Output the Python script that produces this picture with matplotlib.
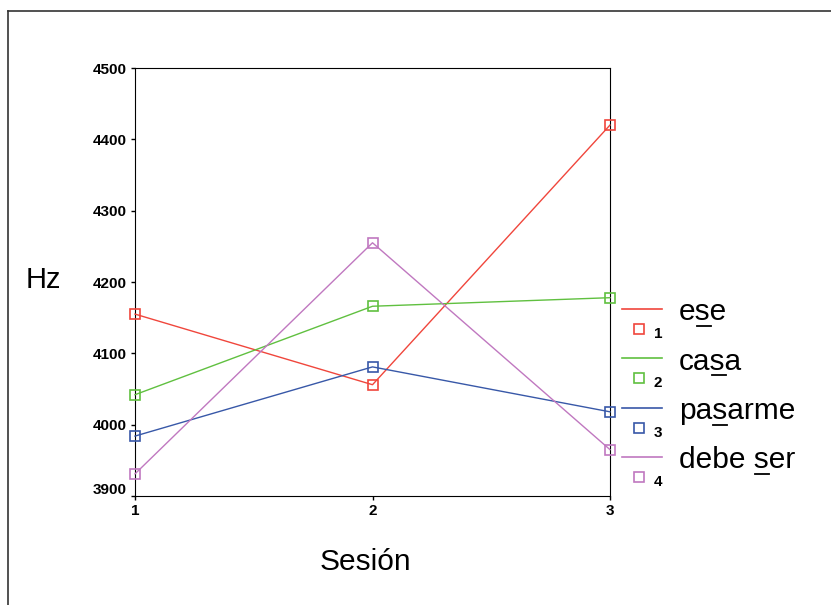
import matplotlib.pyplot as plt
import matplotlib.transforms as mtransforms
from matplotlib.lines import Line2D
import numpy as np

# data
sessions = [1, 2, 3]
ese = [4155, 4056, 4420]
casa = [4042, 4166, 4178]
pasarme = [3984, 4081, 4018]
debe_ser = [3931, 4255, 3965]

series_names = ["ese", "casa", "pasarme", "debe ser"]
underline_pos = [1, 2, 2, 5]   # index of the underlined "s"
series_ids = ["1", "2", "3", "4"]
series_values = [ese, casa, pasarme, debe_ser]
colors = ["#f0463c", "#60c040", "#3858a8", "#c078c0"]

y_ticks = [3900, 4000, 4100, 4200, 4300, 4400, 4500]

W, H = 831, 605
fig = plt.figure(figsize=(W / 100, H / 100), dpi=100)
fig.patch.set_facecolor("white")

narrow = ["Liberation Sans Narrow", "Liberation Sans", "DejaVu Sans"]
sans = ["Liberation Sans", "DejaVu Sans"]

# frame around the figure (only top and left visible)
fig.add_artist(Line2D([8 / W, 8 / W], [0, 1 - 11 / H], transform=fig.transFigure,
                      color="#333333", lw=1.2))
fig.add_artist(Line2D([8 / W, 1], [1 - 11 / H, 1 - 11 / H], transform=fig.transFigure,
                      color="#333333", lw=1.2))

ax = fig.add_axes([135 / W, (H - 496) / H, 475 / W, 428 / H])

for vals, c in zip(series_values, colors):
    ax.plot(sessions, vals, color=c, lw=1.0, marker="s", markersize=7,
            markerfacecolor="none", markeredgecolor=c, markeredgewidth=1.2,
            clip_on=False, zorder=3)

ax.set_xlim(1, 3)
ax.set_ylim(3900, 4500)
ax.set_xticks(sessions)
ax.set_yticks(y_ticks)
ax.tick_params(direction="out", length=3, width=1, pad=3)
for lab in ax.get_xticklabels() + ax.get_yticklabels():
    lab.set_family(narrow)
    lab.set_fontsize(11)
    lab.set_fontweight("bold")
# the lowest y label sits a little above its tick, as in the reference
low = ax.get_yticklabels()[0]
low.set_transform(low.get_transform()
                  + mtransforms.ScaledTranslation(0, 8 / 100, fig.dpi_scale_trans))

fig.text(43 / W, 1 - 280 / H, "Hz", family=sans, fontsize=21,
         ha="center", va="center")
fig.text(365 / W, 1 - 562 / H, "Sesión", family=sans, fontsize=21.5,
         ha="center", va="center")

renderer = fig.canvas.get_renderer()


def text_width(s):
    t = fig.text(0, 0, s, family=sans, fontsize=21.5)
    w = t.get_window_extent(renderer).width
    t.remove()
    return w


# legend: line + name, then square marker + index
for i, (name, ui, sid, c) in enumerate(zip(series_names, underline_pos,
                                           series_ids, colors)):
    yl = 309 + i * 49.3
    fig.add_artist(Line2D([622 / W, 662 / W], [1 - yl / H, 1 - yl / H],
                          transform=fig.transFigure, color=c, lw=1.2))
    fig.add_artist(Line2D([639 / W], [1 - (yl + 20) / H], transform=fig.transFigure,
                          marker="s", markersize=7, markerfacecolor="none",
                          markeredgecolor=c, markeredgewidth=1.2, lw=0))
    x0 = 679
    fig.text(x0 / W, 1 - (yl + 11.5) / H, name, family=sans, fontsize=21.5,
             ha="left", va="baseline")
    end = text_width(name[:ui + 1])
    start = end - text_width(name[ui])
    fig.add_artist(Line2D([(x0 + start + 1) / W, (x0 + end) / W],
                          [1 - (yl + 17) / H, 1 - (yl + 17) / H],
                          transform=fig.transFigure, color="black", lw=1.3))
    fig.text(654 / W, 1 - (yl + 25) / H, sid, family=narrow, fontsize=11,
             fontweight="bold", ha="left", va="center")

fig.savefig("out.png", dpi=100)
